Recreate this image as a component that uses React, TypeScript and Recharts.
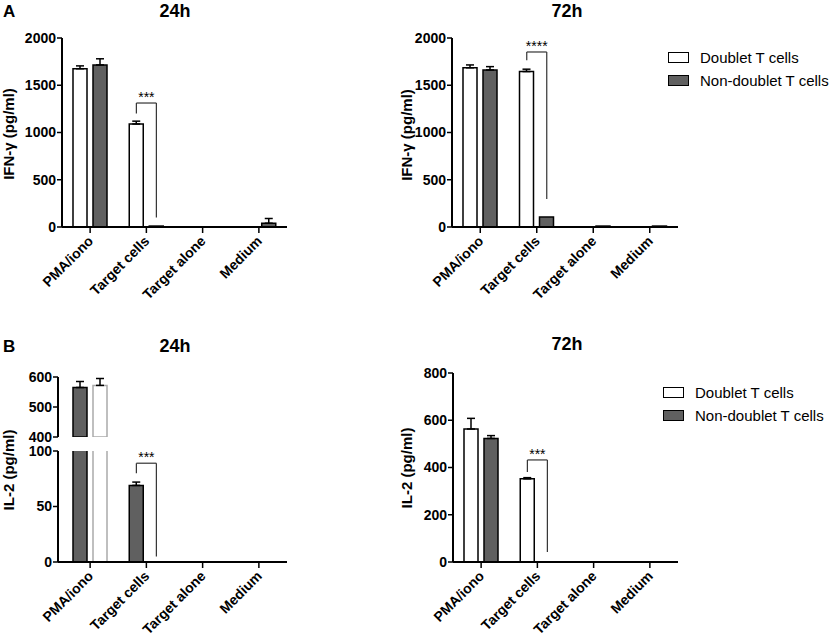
import React from "react";
import { BarChart, Bar, XAxis, YAxis, ErrorBar, ReferenceLine } from "recharts";

const categories = ["PMA/iono", "Target cells", "Target alone", "Medium"];

// IFN-γ, 24h
const ifn24Doublet = [1675, 1090, 0, 0];
const ifn24DoubletErr = [30, 30, 0, 0];
const ifn24NonDoublet = [1715, 10, 0, 40];
const ifn24NonDoubletErr = [65, 0, 0, 50];

// IFN-γ, 72h
const ifn72Doublet = [1685, 1645, 0, 0];
const ifn72DoubletErr = [30, 25, 0, 0];
const ifn72NonDoublet = [1662, 105, 10, 10];
const ifn72NonDoubletErr = [35, 0, 0, 0];

// IL-2, 24h (broken axis)
const il224First = [565, 69, 0, 0];
const il224FirstErr = [20, 3, 0, 0];
const il224Second = [572, 0, 0, 0];
const il224SecondErr = [23, 0, 0, 0];

// IL-2, 72h
const il272Doublet = [563, 352, 0, 0];
const il272DoubletErr = [45, 5, 0, 0];
const il272NonDoublet = [523, 0, 0, 0];
const il272NonDoubletErr = [12, 0, 0, 0];

const ifnTicks = [0, 500, 1000, 1500, 2000];
const il224UpperTicks = [400, 500, 600];
const il224LowerTicks = [0, 50, 100];
const il272Ticks = [0, 200, 400, 600, 800];

// significance brackets: category, left leg bottom, bracket top, right leg bottom
const ifn24Bracket = { cat: "Target cells", left: 1200, top: 1312, right: 100, stars: "***" };
const ifn72Bracket = { cat: "Target cells", left: 1765, top: 1852, right: 296, stars: "****" };
const il224Bracket = { cat: "Target cells", left: 80, top: 89, right: 5, stars: "***" };
const il272Bracket = { cat: "Target cells", left: 381, top: 432, right: 42, stars: "***" };

const legendNames = ["Doublet T cells", "Non-doublet T cells"];

const DARK = "#606060";
const BAR_SIZE = 14;
const BAR_GAP = 6;
// distance from the category centre to each bar's centre
const BAR_SHIFT = (BAR_SIZE + BAR_GAP) / 2;

const showErr = (v: number, e: number, [lo, hi]: number[]) =>
  e > 0 && v >= lo && v <= hi ? [0, e] : null;

// a segment of a broken axis only draws the bars that reach it
const inSegment = (v: number, [lo]: number[]) => (lo > 0 && v < lo ? null : v);

const rowsFor = (a: number[], aErr: number[], b: number[], bErr: number[], domain: number[]) =>
  categories.map((name, i) => ({
    name,
    a: inSegment(a[i], domain),
    b: inSegment(b[i], domain),
    aErr: showErr(a[i], aErr[i], domain),
    bErr: showErr(b[i], bErr[i], domain),
  }));

const tickStyle = { fill: "#000", fontSize: 14, fontWeight: "bold" };
const bracketStroke = { stroke: "#333", strokeWidth: 1.2 };

const legShape = (dx: number) => (p: any) => (
  <line x1={p.x1 + dx} y1={p.y1} x2={p.x2 + dx} y2={p.y2} {...bracketStroke} />
);
const topShape = (p: any) => (
  <line x1={p.x1 - BAR_SHIFT} y1={p.y1} x2={p.x2 + BAR_SHIFT} y2={p.y2} {...bracketStroke} />
);

const SlantTick = (p: any) => (
  <g transform={`translate(${p.x + 4},${p.y + 7})`}>
    <text transform="rotate(-45)" textAnchor="end" fill="#000" fontSize={14} fontWeight="bold">
      {p.payload.value}
    </text>
  </g>
);

function Panel(props: any) {
  const {
    left, top, width, height, margin, yWidth, domain, ticks, rows,
    showX, colors, bracket, overflow, xPad = 0, xHeight = 76,
  } = props;
  let bracketLines = null;
  if (bracket) {
    const c = bracket.cat;
    bracketLines = [
      <ReferenceLine
        key="l"
        ifOverflow="visible"
        segment={[{ x: c, y: bracket.left }, { x: c, y: bracket.top }]}
        shape={legShape(-BAR_SHIFT)}
      />,
      <ReferenceLine
        key="t"
        ifOverflow="visible"
        segment={[{ x: c, y: bracket.top }, { x: c, y: bracket.top }]}
        shape={topShape}
        label={{ value: bracket.stars, position: "top", offset: 1, fill: "#000", fontSize: 14 }}
      />,
      <ReferenceLine
        key="r"
        ifOverflow="visible"
        segment={[{ x: c, y: bracket.top }, { x: c, y: bracket.right }]}
        shape={legShape(BAR_SHIFT)}
      />,
    ];
  }
  return (
    <div style={{ position: "absolute", left, top }}>
      <BarChart width={width} height={height} margin={margin} data={rows} barGap={BAR_GAP}>
        <XAxis
          dataKey="name"
          hide={!showX}
          interval={0}
          height={xHeight}
          padding={{ left: xPad, right: 0 }}
          axisLine={{ stroke: "#000", strokeWidth: 2 }}
          tickLine={{ stroke: "#000", strokeWidth: 1.5 }}
          tickSize={6}
          tick={<SlantTick />}
        />
        <YAxis
          width={yWidth}
          domain={domain}
          ticks={ticks}
          interval={0}
          allowDataOverflow={overflow}
          axisLine={{ stroke: "#000", strokeWidth: 2 }}
          tickLine={{ stroke: "#000", strokeWidth: 1.5 }}
          tickSize={5}
          tickMargin={1}
          tick={tickStyle}
        />
        <Bar dataKey="a" fill={colors[0]} stroke={colors[1]} strokeWidth={1.5} barSize={BAR_SIZE} isAnimationActive={false}>
          <ErrorBar dataKey="aErr" direction="y" width={4} stroke="#000" strokeWidth={1.5} isAnimationActive={false} />
        </Bar>
        <Bar dataKey="b" fill={colors[2]} stroke={colors[3]} strokeWidth={1.5} barSize={BAR_SIZE} isAnimationActive={false}>
          <ErrorBar dataKey="bErr" direction="y" width={4} stroke="#000" strokeWidth={1.5} isAnimationActive={false} />
        </Bar>
        {bracketLines}
      </BarChart>
    </div>
  );
}

const Legend = ({ left, top }: { left: number; top: number }) => (
  <div style={{ position: "absolute", left, top, fontSize: 15 }}>
    {legendNames.map((n, i) => (
      <div key={n} style={{ display: "flex", alignItems: "center", height: 23 }}>
        <div
          style={{
            width: 19,
            height: 9,
            border: "1px solid #000",
            background: i === 0 ? "#fff" : DARK,
            marginRight: 11,
          }}
        />
        <span>{n}</span>
      </div>
    ))}
  </div>
);

const Title = ({ x, y, text }: { x: number; y: number; text: string }) => (
  <div style={{ position: "absolute", left: x - 40, top: y - 11, width: 80, textAlign: "center", fontSize: 18, fontWeight: "bold" }}>
    {text}
  </div>
);

const Letter = ({ x, y, text }: { x: number; y: number; text: string }) => (
  <div style={{ position: "absolute", left: x, top: y - 10, fontSize: 17, fontWeight: "bold" }}>{text}</div>
);

const YLabel = ({ x, y, text }: { x: number; y: number; text: string }) => (
  <div
    style={{
      position: "absolute",
      left: x - 100,
      top: y - 10,
      width: 200,
      height: 20,
      lineHeight: "20px",
      textAlign: "center",
      fontSize: 15,
      fontWeight: "bold",
      transform: "rotate(-90deg)",
    }}
  >
    {text}
  </div>
);

const white = ["#fff", "#000"];
const dark = [DARK, "#000"];

export default function App() {
  const upperDomain = [400, 600];
  const lowerDomain = [0, 100];
  return (
    <div
      style={{
        position: "absolute",
        left: 0,
        top: 0,
        width: 831,
        height: 638,
        overflow: "hidden",
        background: "#fff",
        color: "#000",
        fontFamily: '"Liberation Sans", Arial, sans-serif',
      }}
    >
      <Letter x={3} y={12} text="A" />
      <Title x={175} y={12} text="24h" />
      <Title x={567} y={12} text="72h" />
      <YLabel x={9} y={134} text="IFN-γ (pg/ml)" />
      <YLabel x={407} y={135} text="IFN-γ (pg/ml)" />

      <Panel
        left={0}
        top={0}
        width={300}
        height={315}
        xHeight={88}
        margin={{ top: 38, right: 13, left: 0, bottom: 0 }}
        yWidth={62}
        domain={[0, 2000]}
        ticks={ifnTicks}
        rows={rowsFor(ifn24Doublet, ifn24DoubletErr, ifn24NonDoublet, ifn24NonDoubletErr, [0, 2000])}
        showX
        colors={[...white, ...dark]}
        bracket={ifn24Bracket}
      />
      <Panel
        left={390}
        top={0}
        width={441}
        height={315}
        xHeight={88}
        margin={{ top: 38, right: 153, left: 0, bottom: 0 }}
        yWidth={62}
        domain={[0, 2000]}
        ticks={ifnTicks}
        rows={rowsFor(ifn72Doublet, ifn72DoubletErr, ifn72NonDoublet, ifn72NonDoubletErr, [0, 2000])}
        showX
        colors={[...white, ...dark]}
        bracket={ifn72Bracket}
      />
      <Legend left={668} top={46} />

      <Letter x={3} y={347} text="B" />
      <Title x={175} y={347} text="24h" />
      <Title x={567} y={345} text="72h" />
      <YLabel x={9} y={470} text="IL-2 (pg/ml)" />
      <YLabel x={407} y={468} text="IL-2 (pg/ml)" />

      <Panel
        left={0}
        top={357}
        width={300}
        height={88}
        margin={{ top: 20, right: 13, left: 0, bottom: 8 }}
        yWidth={58}
        xPad={4}
        domain={upperDomain}
        ticks={il224UpperTicks}
        overflow
        rows={rowsFor(il224First, il224FirstErr, il224Second, il224SecondErr, upperDomain)}
        showX={false}
        colors={[...dark, "#fff", "#aaa"]}
      />
      <Panel
        left={0}
        top={441}
        width={300}
        height={197}
        margin={{ top: 10, right: 13, left: 0, bottom: 0 }}
        yWidth={58}
        xPad={4}
        domain={lowerDomain}
        ticks={il224LowerTicks}
        overflow
        rows={rowsFor(il224First, il224FirstErr, il224Second, il224SecondErr, lowerDomain)}
        showX
        colors={[...dark, "#fff", "#aaa"]}
        bracket={il224Bracket}
      />
      <Panel
        left={391}
        top={340}
        width={440}
        height={298}
        margin={{ top: 33, right: 153, left: 0, bottom: 0 }}
        yWidth={62}
        domain={[0, 800]}
        ticks={il272Ticks}
        rows={rowsFor(il272Doublet, il272DoubletErr, il272NonDoublet, il272NonDoubletErr, [0, 800])}
        showX
        colors={[...white, ...dark]}
        bracket={il272Bracket}
      />
      <Legend left={663} top={381} />
    </div>
  );
}
